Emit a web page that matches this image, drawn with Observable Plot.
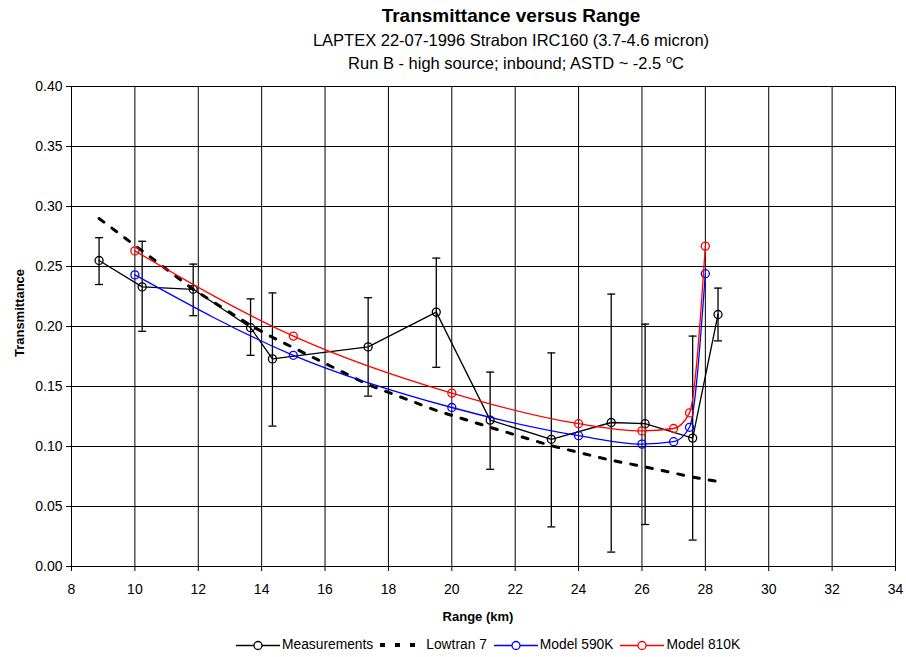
<!DOCTYPE html>
<html>
<head>
<meta charset="utf-8">
<script src="https://cdn.jsdelivr.net/npm/d3@7"></script>
<script src="https://cdn.jsdelivr.net/npm/@observablehq/plot@0.6"></script>
<style>
  body { margin: 0; background: #fff; font-family: "Liberation Sans", Arial, sans-serif; }
  #wrap { position: relative; width: 906px; height: 657px; overflow: hidden; background: #fff; }
  #chart { position: absolute; left: 0; top: 0; }
  .t { position: absolute; white-space: nowrap; color: #000; line-height: 1; font-family: "Liberation Sans", Arial, sans-serif; }
  #title { left: 511px; top: 6px; transform: translateX(-50%); font-size: 19px; font-weight: bold; }
  #sub1 { left: 511px; top: 31.5px; transform: translateX(-50%); font-size: 16.5px; }
  #sub2 { left: 516px; top: 54.5px; transform: translateX(-50%); font-size: 16.5px; }
  #sub2 sup { font-size: 11px; vertical-align: 6px; line-height: 0; }
  #ytitle { left: 19px; top: 313px; transform: translate(-50%, -50%) rotate(-90deg); font-size: 13px; font-weight: bold; }
  #xtitle { left: 478px; top: 610px; transform: translateX(-50%); font-size: 13px; font-weight: bold; }
  #legend { position: absolute; left: 236px; top: 637px; display: flex; align-items: center; font-size: 13.8px; line-height: 16px; }
  #legend .item { display: flex; align-items: center; margin-right: 7px; }
  #legend svg { display: block; margin-right: 2px; }
</style>
</head>
<body>
<div id="wrap">
  <div id="chart"></div>
  <div class="t" id="title">Transmittance versus Range</div>
  <div class="t" id="sub1">LAPTEX 22-07-1996 Strabon IRC160 (3.7-4.6 micron)</div>
  <div class="t" id="sub2">Run B - high source; inbound; ASTD ~ -2.5 <sup>o</sup>C</div>
  <div class="t" id="ytitle">Transmittance</div>
  <div class="t" id="xtitle">Range (km)</div>
  <div id="legend"></div>
</div>
<script>
// ---- Data ----
const xTicks = [8, 10, 12, 14, 16, 18, 20, 22, 24, 26, 28, 30, 32, 34];
const yTicks = [0, 0.05, 0.10, 0.15, 0.20, 0.25, 0.30, 0.35, 0.40];

// Measurements (range km, transmittance, error bar high, error bar low)
const measRange = [8.87, 10.23, 11.84, 13.65, 14.34, 17.36, 19.51, 21.21, 23.14, 25.03, 26.10, 27.60, 28.40];
const measT     = [0.255, 0.233, 0.231, 0.199, 0.173, 0.183, 0.212, 0.122, 0.106, 0.120, 0.119, 0.107, 0.210];
const measHigh  = [0.274, 0.271, 0.252, 0.223, 0.228, 0.224, 0.257, 0.162, 0.178, 0.227, 0.202, 0.192, 0.232];
const measLow   = [0.235, 0.196, 0.209, 0.176, 0.117, 0.142, 0.166, 0.081, 0.033, 0.012, 0.035, 0.022, 0.188];

// Lowtran 7
const lowRange = [8.87, 10.23, 11.84, 13.65, 14.34, 17.36, 19.51, 21.21, 23.14, 25.03, 26.10, 27.60, 28.44];
const lowT     = [0.290, 0.263, 0.231, 0.201, 0.191, 0.1515, 0.130, 0.116, 0.1006, 0.0885, 0.083, 0.0745, 0.0706];

// Models
const modelRange = [10, 15, 20, 24, 26, 27, 27.5, 28];
const model590T  = [0.243, 0.176, 0.1325, 0.109, 0.102, 0.104, 0.116, 0.244];
const model810T  = [0.263, 0.192, 0.1445, 0.119, 0.113, 0.115, 0.128, 0.267];

const seriesNames = ["Measurements", "Lowtran 7", "Model 590K", "Model 810K"];
const seriesColors = ["#000000", "#000000", "#0000ff", "#ff0000"];

// ---- Tables ----
const meas = measRange.map((x, i) => ({x, y: measT[i], hi: measHigh[i], lo: measLow[i]}));
const low = lowRange.map((x, i) => ({x, y: lowT[i]}));
const m590 = modelRange.map((x, i) => ({x, y: model590T[i]}));
const m810 = modelRange.map((x, i) => ({x, y: model810T[i]}));

const capSymbol = {
  draw(context) { context.moveTo(-4, 0); context.lineTo(4, 0); }
};

const chart = Plot.plot({
  width: 906,
  height: 657,
  marginLeft: 71,
  marginRight: 11,
  marginTop: 86,
  marginBottom: 91,
  x: {domain: [8, 34]},
  y: {domain: [0, 0.4]},
  style: {fontFamily: "'Liberation Sans', Arial, sans-serif", fontSize: "14px", background: "#fff", color: "#000"},
  marks: [
    Plot.gridX(xTicks, {stroke: "#000", strokeOpacity: 1, strokeWidth: 1}),
    Plot.gridY(yTicks, {stroke: "#000", strokeOpacity: 1, strokeWidth: 1}),
    Plot.frame({stroke: "#000"}),
    Plot.axisX(xTicks, {tickSize: 5, tickPadding: 13, label: null, fontSize: 14}),
    Plot.axisY(yTicks, {tickSize: 5, tickPadding: 4, label: null, fontSize: 14, tickFormat: d3.format(".2f")}),
    // Measurements with error bars
    Plot.ruleX(meas, {x: "x", y1: "lo", y2: "hi", stroke: "#000", strokeWidth: 1.3}),
    Plot.dot(meas, {x: "x", y: "hi", symbol: capSymbol, stroke: "#000", strokeWidth: 1.3}),
    Plot.dot(meas, {x: "x", y: "lo", symbol: capSymbol, stroke: "#000", strokeWidth: 1.3}),
    Plot.line(meas, {x: "x", y: "y", stroke: "#000", strokeWidth: 1.3}),
    Plot.dot(meas, {x: "x", y: "y", r: 4, stroke: "#000", strokeWidth: 1.3, fill: "none"}),
    // Lowtran 7
    Plot.line(low, {x: "x", y: "y", stroke: "#000", strokeWidth: 3, strokeDasharray: "6,10"}),
    // Models
    Plot.line(m590, {x: "x", y: "y", stroke: "#0000ff", strokeWidth: 1.3, curve: "monotone-x"}),
    Plot.dot(m590, {x: "x", y: "y", r: 4, stroke: "#0000ff", strokeWidth: 1.3, fill: "none"}),
    Plot.line(m810, {x: "x", y: "y", stroke: "#ff0000", strokeWidth: 1.3, curve: "monotone-x"}),
    Plot.dot(m810, {x: "x", y: "y", r: 4, stroke: "#ff0000", strokeWidth: 1.3, fill: "none"})
  ]
});
document.getElementById("chart").appendChild(chart);

// ---- Legend ----
const legend = document.getElementById("legend");
seriesNames.forEach((name, i) => {
  const item = document.createElement("div");
  item.className = "item";
  const c = seriesColors[i];
  let sym;
  if (name === "Lowtran 7") {
    sym = `<svg width="44" height="16"><line x1="0" y1="8" x2="44" y2="8" stroke="${c}" stroke-width="4" stroke-dasharray="5,10"/></svg>`;
  } else {
    sym = `<svg width="44" height="16"><line x1="0" y1="8.5" x2="44" y2="8.5" stroke="${c}" stroke-width="1.3"/><circle cx="22" cy="8.5" r="4" fill="#fff" stroke="${c}" stroke-width="1.3"/></svg>`;
  }
  item.innerHTML = sym + `<span>${name}</span>`;
  legend.appendChild(item);
});
</script>
</body>
</html>
